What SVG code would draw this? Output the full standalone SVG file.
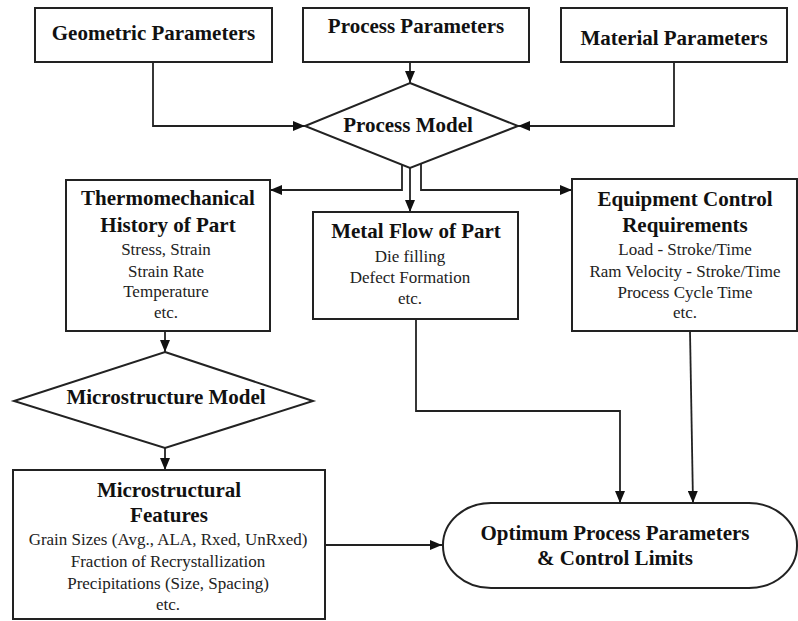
<svg xmlns="http://www.w3.org/2000/svg" width="798" height="621" viewBox="0 0 798 621">
<defs>
<marker id="ah" markerWidth="12" markerHeight="10" refX="12" refY="5" orient="auto" markerUnits="userSpaceOnUse">
<path d="M0,0 L12,5 L0,10 Z" fill="#111"/>
</marker>
<style>
.box{fill:#fff;stroke:#222;stroke-width:2}
.ln{fill:none;stroke:#222;stroke-width:1.8}
.t{font-family:"Liberation Serif","Times New Roman",serif;font-weight:bold;font-size:21px;fill:#111;text-anchor:middle}
.s{font-family:"Liberation Serif","Times New Roman",serif;font-size:17px;fill:#222;text-anchor:middle}
</style>
</defs>
<rect width="798" height="621" fill="#fff"/>
<g id="connectors">
<path class="ln" d="M410,62 V83" marker-end="url(#ah)"/>
<path class="ln" d="M153,62 V126 H305" marker-end="url(#ah)"/>
<path class="ln" d="M674,62 V126 H518" marker-end="url(#ah)"/>
<path class="ln" d="M402,164 V190 H270" marker-end="url(#ah)"/>
<path class="ln" d="M410,168 V212" marker-end="url(#ah)"/>
<path class="ln" d="M421,164 V190 H572" marker-end="url(#ah)"/>
<path class="ln" d="M165,331 V352" marker-end="url(#ah)"/>
<path class="ln" d="M165,448 V470" marker-end="url(#ah)"/>
<path class="ln" d="M325,545 H442" marker-end="url(#ah)"/>
<path class="ln" d="M416,319 V411 H620 V503" marker-end="url(#ah)"/>
<path class="ln" d="M690,331 L693,503" marker-end="url(#ah)"/>
</g>
<g id="geometric">
<rect class="box" x="35" y="8" width="237" height="54"/>
<text class="t" x="153.5" y="40">Geometric Parameters</text>
</g>
<g id="process-params">
<rect class="box" x="303" y="8" width="226" height="54"/>
<text class="t" x="416" y="33">Process Parameters</text>
</g>
<g id="material">
<rect class="box" x="561" y="8" width="226" height="54"/>
<text class="t" x="674" y="45">Material Parameters</text>
</g>
<g id="process-model">
<polygon class="box" points="410,83 518,126 410,168 305,126"/>
<text class="t" x="408" y="132">Process Model</text>
</g>
<g id="thermo">
<rect class="box" x="66" y="180" width="204" height="151"/>
<text class="t" x="168" y="205">Thermomechanical</text>
<text class="t" x="168" y="232">History of Part</text>
<text class="s" x="166" y="255">Stress, Strain</text>
<text class="s" x="166" y="277">Strain Rate</text>
<text class="s" x="166" y="297">Temperature</text>
<text class="s" x="166" y="318">etc.</text>
</g>
<g id="metal-flow">
<rect class="box" x="313" y="212" width="205" height="107"/>
<text class="t" x="416" y="238">Metal Flow of Part</text>
<text class="s" x="410" y="262">Die filling</text>
<text class="s" x="410" y="283">Defect Formation</text>
<text class="s" x="410" y="304">etc.</text>
</g>
<g id="equipment">
<rect class="box" x="572" y="179" width="225" height="152"/>
<text class="t" x="685" y="206">Equipment Control</text>
<text class="t" x="685" y="232">Requirements</text>
<text class="s" x="685" y="255">Load - Stroke/Time</text>
<text class="s" x="685" y="277">Ram Velocity - Stroke/Time</text>
<text class="s" x="685" y="298">Process Cycle Time</text>
<text class="s" x="685" y="318">etc.</text>
</g>
<g id="micro-model">
<polygon class="box" points="165,352 313,401 165,448 14,401"/>
<text class="t" x="166" y="404">Microstructure Model</text>
</g>
<g id="micro-features">
<rect class="box" x="13" y="470" width="312" height="149"/>
<text class="t" x="169" y="497">Microstructural</text>
<text class="t" x="169" y="522">Features</text>
<text class="s" x="168" y="545">Grain Sizes (Avg., ALA, Rxed, UnRxed)</text>
<text class="s" x="168" y="567">Fraction of Recrystallization</text>
<text class="s" x="168" y="589">Precipitations (Size, Spacing)</text>
<text class="s" x="168" y="610">etc.</text>
</g>
<g id="optimum">
<rect class="box" x="443" y="503" width="354" height="85" rx="48" ry="42"/>
<text class="t" x="615" y="540">Optimum Process Parameters</text>
<text class="t" x="615" y="565">&amp; Control Limits</text>
</g>
</svg>
